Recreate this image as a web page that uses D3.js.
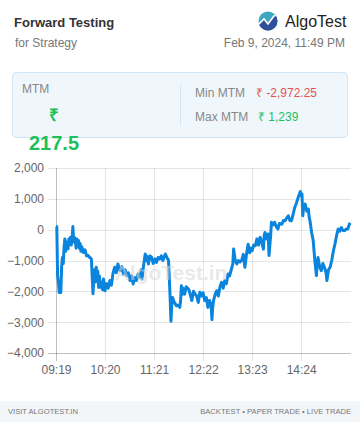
<!DOCTYPE html>
<html><head><meta charset="utf-8">
<script src="https://cdn.jsdelivr.net/npm/d3@7/dist/d3.min.js"></script>
<style>
html,body{margin:0;padding:0;background:#fff;}
svg{display:block;font-family:"Liberation Sans",Arial,Helvetica,sans-serif;}
</style></head>
<body>
<svg id="c" width="360" height="422"></svg>
<script>
const times = ["09:19","09:20","09:21","09:22","09:23","09:25","09:26","09:27","09:28","09:29","09:30","09:31","09:32","09:33","09:34","09:35","09:36","09:37","09:38","09:39","09:40","09:41","09:42","09:43","09:44","09:45","09:46","09:47","09:48","09:49","09:50","09:51","09:53","09:55","09:57","09:59","10:01","10:03","10:04","10:05","10:06","10:07","10:08","10:09","10:10","10:11","10:12","10:13","10:14","10:15","10:17","10:18","10:20","10:22","10:24","10:26","10:28","10:30","10:32","10:34","10:36","10:38","10:39","10:41","10:43","10:45","10:47","10:49","10:51","10:53","10:55","10:57","10:59","11:01","11:03","11:05","11:06","11:08","11:10","11:11","11:12","11:14","11:16","11:18","11:20","11:22","11:24","11:26","11:28","11:30","11:32","11:35","11:37","11:39","11:40","11:41","11:42","11:43","11:44","11:46","11:49","11:51","11:53","11:54","11:55","11:56","11:57","11:59","12:01","12:04","12:06","12:08","12:10","12:12","12:14","12:16","12:18","12:20","12:22","12:24","12:26","12:28","12:30","12:32","12:33","12:34","12:35","12:37","12:39","12:41","12:43","12:45","12:47","12:49","12:51","12:53","12:55","12:57","12:59","13:00","13:02","13:04","13:06","13:08","13:10","13:12","13:14","13:16","13:18","13:20","13:22","13:23","13:25","13:27","13:29","13:31","13:33","13:35","13:37","13:38","13:39","13:41","13:43","13:44","13:46","13:47","13:49","13:51","13:53","13:55","13:57","14:00","14:02","14:04","14:06","14:08","14:10","14:12","14:14","14:16","14:18","14:19","14:21","14:23","14:24","14:25","14:26","14:27","14:29","14:31","14:33","14:34","14:35","14:36","14:37","14:39","14:41","14:43","14:44","14:45","14:47","14:49","14:51","14:53","14:55","14:56","14:58","15:00","15:02","15:04","15:06","15:08","15:10","15:12","15:14","15:16","15:18","15:20","15:22","15:24","15:25"];
const mtm = [110,100,-1500,-1700,-2040,-2040,-1200,-900,-1100,-600,-300,-700,-400,-500,-620,-300,-450,-250,-500,-300,100,-400,-250,-360,-600,-300,-450,-350,-600,-450,-700,-550,-740,-650,-850,-840,-900,-950,-1500,-2080,-1600,-1300,-1700,-1220,-1500,-1350,-1870,-1500,-1870,-1700,-1950,-1600,-1980,-1750,-1900,-1650,-1800,-1400,-1220,-1400,-1110,-1300,-1330,-1200,-1450,-1300,-1490,-1400,-1650,-1500,-1760,-1550,-1650,-1440,-1550,-1300,-1600,-1150,-790,-1000,-850,-1110,-850,-900,-1100,-950,-1060,-900,-950,-850,-1000,-790,-900,-1000,-1600,-2200,-2972.25,-2400,-2200,-2350,-2470,-2450,-2520,-2300,-1820,-2100,-1900,-2090,-1850,-1930,-2100,-2300,-2000,-2090,-2150,-2360,-2030,-2150,-2050,-2300,-2200,-2520,-2300,-2450,-2920,-2500,-2300,-2100,-1980,-2150,-1850,-1710,-1900,-1650,-1750,-1440,-1500,-1300,-1110,-630,-1000,-1110,-1000,-1050,-1000,-800,-1220,-800,-470,-750,-600,-680,-500,-520,-300,-500,-250,-400,-630,-200,-90,-300,-140,-840,-200,240,150,240,100,20,200,180,300,290,380,450,300,290,500,720,850,940,1100,1239,1100,1160,450,700,830,600,670,400,290,100,-90,-360,-1000,-1490,-1100,-900,-1200,-1330,-1100,-1220,-1400,-1650,-1300,-1220,-1000,-700,-470,-200,20,-50,70,-30,-30,20,20,180,217.5];
const xTickLabels = ["09:19","10:20","11:21","12:22","13:23","14:24"];
const yTickValues = [2000,1000,0,-1000,-2000,-3000,-4000];
const summary = {mtm:"217.5", minMtm:"₹ -2,972.25", maxMtm:"₹ 1,239"};

const parse = d3.timeParse("%H:%M");
const data = times.map((t,i)=>({t:parse(t), v:mtm[i]}));

const svg = d3.select("#c");
const green = "#1dbf5b", red = "#e8504d";

// Header
svg.append("text").attr("x",14).attr("y",27).attr("font-size",13).attr("font-weight","bold").attr("fill","#333").text("Forward Testing");
svg.append("text").attr("x",15).attr("y",47).attr("font-size",12).attr("fill","#777").text("for Strategy");
svg.append("text").attr("x",285).attr("y",27).attr("font-size",16).attr("fill","#222").text("AlgoTest");
svg.append("text").attr("x",345).attr("y",47).attr("font-size",12).attr("fill","#777").attr("text-anchor","end").text("Feb 9, 2024, 11:49 PM");

// Logo
const logo = svg.append("g").attr("transform","translate(268,21)");
const defs = svg.append("defs");
defs.append("clipPath").attr("id","lc").append("circle").attr("r",9.5);
const lg = logo.append("g").attr("clip-path","url(#lc)");
lg.append("rect").attr("x",-10).attr("y",-10).attr("width",20).attr("height",20).attr("fill","#3ea7bf");
lg.append("path").attr("d","M-10,4 L-4,-2 L0,3 L6,-5 L10,-7 L10,10 L-10,10 Z").attr("fill","#2f4f9b");
lg.append("path").attr("d","M-10,4 L-4,-2 L0,3 L6,-5 L10,-7").attr("fill","none").attr("stroke","#fff").attr("stroke-width",1.6);

// Summary box
svg.append("rect").attr("x",12.5).attr("y",72.5).attr("width",335).attr("height",65).attr("rx",4)
  .attr("fill","#f0f7fc").attr("stroke","#cfe4f4");
svg.append("line").attr("x1",180.5).attr("x2",180.5).attr("y1",85).attr("y2",125).attr("stroke","#cfe4f4");
svg.append("text").attr("x",22).attr("y",93).attr("font-size",12).attr("fill","#888").text("MTM");
svg.append("text").attr("x",54).attr("y",121).attr("font-size",17).attr("font-weight","bold").attr("fill",green).attr("text-anchor","middle").text("₹");
svg.append("text").attr("x",54).attr("y",150).attr("font-size",20).attr("font-weight","bold").attr("fill",green).attr("text-anchor","middle").text(summary.mtm);
svg.append("text").attr("x",195).attr("y",97).attr("font-size",12).attr("fill","#888").text("Min MTM");
svg.append("text").attr("x",256).attr("y",97).attr("font-size",12).attr("fill",red).text(summary.minMtm);
svg.append("text").attr("x",195).attr("y",121).attr("font-size",12).attr("fill","#888").text("Max MTM");
svg.append("text").attr("x",258).attr("y",121).attr("font-size",12).attr("fill",green).text(summary.maxMtm);

// Chart
const L=56, R=351, T=168, B=353;
const x = d3.scaleTime().domain([parse("09:19"), d3.timeMinute.offset(parse("09:19"), 367)]).range([L,R]);
const y = d3.scaleLinear().domain([-4000,2000]).range([B,T]);

const grid = svg.append("g");
yTickValues.forEach(v=>{
  grid.append("line").attr("x1",L-8).attr("x2",R).attr("y1",Math.round(y(v))+0.5).attr("y2",Math.round(y(v))+0.5)
    .attr("stroke", v===-4000 ? "rgba(0,0,0,0.25)" : "rgba(0,0,0,0.1)");
});
xTickLabels.forEach((s,i)=>{
  const px = Math.round(x(parse(s)))+0.5;
  grid.append("line").attr("x1",px).attr("x2",px).attr("y1",T).attr("y2",B+8)
    .attr("stroke", i===0 ? "rgba(0,0,0,0.25)" : "rgba(0,0,0,0.1)");
});

const yAxis = d3.axisLeft(y).tickValues(yTickValues).tickFormat(d3.format(",")).tickSize(0).tickPadding(12);
const ya = svg.append("g").attr("transform",`translate(${L},0)`).call(yAxis);
ya.select(".domain").remove();
ya.selectAll("text").attr("font-size",12).attr("fill","#666").attr("font-family","'Liberation Sans',Arial,sans-serif");

const xAxis = d3.axisBottom(x).tickValues(xTickLabels.map(parse)).tickFormat(d3.timeFormat("%H:%M")).tickSize(0).tickPadding(12);
const xa = svg.append("g").attr("transform",`translate(0,${B})`).call(xAxis);
xa.select(".domain").remove();
xa.selectAll("text").attr("font-size",12).attr("fill","#666").attr("font-family","'Liberation Sans',Arial,sans-serif");

const line = d3.line().x(d=>x(d.t)).y(d=>y(d.v));
svg.append("path").datum(data).attr("d",line).attr("fill","none").attr("stroke","#0a84dc").attr("stroke-width",3).attr("stroke-linejoin","round");

// Watermark
svg.append("text").attr("x",171).attr("y",280).attr("text-anchor","middle").attr("font-size",21).attr("font-weight","bold")
  .attr("fill","rgba(215,215,215,0.55)").text("AlgoTest.in");

// Footer
svg.append("rect").attr("x",0).attr("y",401).attr("width",360).attr("height",21).attr("fill","#f3f6f9");
svg.append("text").attr("x",8).attr("y",414).attr("font-size",7.6).attr("fill","#777").text("VISIT ALGOTEST.IN");
svg.append("text").attr("x",351).attr("y",414).attr("font-size",7.6).attr("fill","#777").attr("text-anchor","end").text("BACKTEST • PAPER TRADE • LIVE TRADE");
</script>
</body></html>
